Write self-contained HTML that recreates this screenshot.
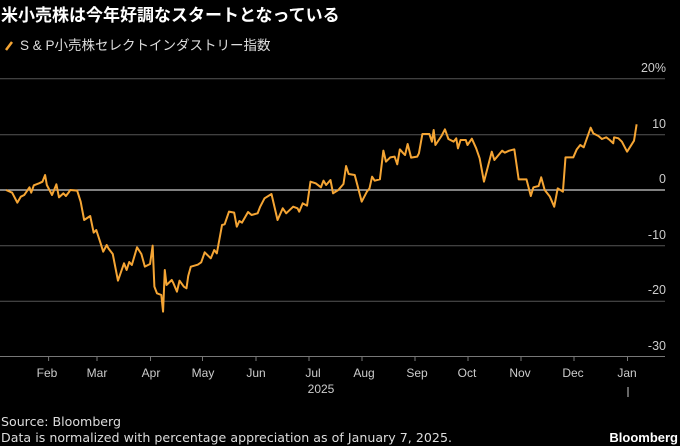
<!DOCTYPE html>
<html><head><meta charset="utf-8"><style>
body{margin:0;background:#000;width:680px;height:446px;overflow:hidden;font-family:"Liberation Sans","Noto Sans CJK JP",sans-serif;color:#fff}
svg{position:absolute;left:0;top:0}
</style></head><body>
<svg width="680" height="446" xmlns="http://www.w3.org/2000/svg" font-family="Liberation Sans, Noto Sans CJK JP, sans-serif">
<text x="1" y="21" font-size="17" font-weight="bold" fill="#fff">米小売株は今年好調なスタートとなっている</text>
<line x1="6" y1="50" x2="12" y2="42" stroke="#f5a534" stroke-width="2.5"/>
<text x="20" y="50" font-size="13.5" fill="#ddd">S &amp; P小売株セレクトインダストリー指数</text>
<g stroke="#555" stroke-width="1">
<line x1="0" y1="78.7" x2="665" y2="78.7"/>
<line x1="0" y1="134.7" x2="665" y2="134.7"/>
<line x1="0" y1="245.7" x2="665" y2="245.7"/>
<line x1="0" y1="301.3" x2="665" y2="301.3"/>
</g>
<line x1="0" y1="190" x2="665" y2="190" stroke="#ccc" stroke-width="1.2"/>
<line x1="0" y1="356.5" x2="665" y2="356.5" stroke="#777" stroke-width="1"/>
<g stroke="#777" stroke-width="1">
<line x1="48.6" y1="356" x2="48.6" y2="361"/><line x1="97" y1="356" x2="97" y2="361"/><line x1="150.5" y1="356" x2="150.5" y2="361"/><line x1="202.5" y1="356" x2="202.5" y2="361"/><line x1="256" y1="356" x2="256" y2="361"/><line x1="309" y1="356" x2="309" y2="361"/><line x1="362" y1="356" x2="362" y2="361"/><line x1="415" y1="356" x2="415" y2="361"/><line x1="468" y1="356" x2="468" y2="361"/><line x1="521" y1="356" x2="521" y2="361"/><line x1="574" y1="356" x2="574" y2="361"/><line x1="627.5" y1="356" x2="627.5" y2="361"/>
</g>
<g font-size="12.5" fill="#ccc" text-anchor="end">
<text x="666" y="72">20%</text><text x="666" y="128">10</text><text x="666" y="183">0</text><text x="666" y="239">-10</text><text x="666" y="294">-20</text><text x="666" y="350">-30</text>
</g>
<g font-size="12" fill="#ccc" text-anchor="middle">
<text x="47" y="377">Feb</text><text x="97" y="377">Mar</text><text x="151" y="377">Apr</text><text x="203" y="377">May</text><text x="256" y="377">Jun</text><text x="313" y="377">Jul</text><text x="364" y="377">Aug</text><text x="417" y="377">Sep</text><text x="467" y="377">Oct</text><text x="520" y="377">Nov</text><text x="573" y="377">Dec</text><text x="627" y="377">Jan</text>
<text x="321" y="393">2025</text>
</g>
<line x1="628" y1="387" x2="628" y2="397" stroke="#ccc" stroke-width="1"/>
<g transform="translate(0,60) scale(0.43367,0.33333)">
<polyline fill="none" stroke="#f5a534" stroke-width="2" vector-effect="non-scaling-stroke" stroke-linejoin="round" points="14,390 28,398 40,428 48,410 56,405 68,382 72,398 78,376 90,370 98,365 104,345 108,375 120,405 130,373 136,412 146,400 152,408 158,398 162,390 178,392 186,425 194,480 208,468 216,518 222,510 232,550 238,575 246,555 250,565 260,582 272,662 286,610 292,630 298,606 304,615 316,562 326,582 334,620 346,612 352,557 356,680 362,700 372,705 376,755 380,630 384,675 396,660 400,670 408,695 414,662 424,680 430,685 434,648 440,620 456,614 464,607 472,577 486,595 494,570 500,580 512,495 518,493 528,455 540,458 546,500 552,483 558,488 572,456 580,465 594,460 600,440 610,415 626,402 640,480 652,445 660,460 676,440 686,445 690,455 698,430 708,437 716,365 728,370 740,382 746,362 752,375 762,360 768,400 780,390 792,372 798,318 804,342 818,345 834,425 846,395 852,385 858,350 864,362 876,358 884,272 890,305 900,292 910,290 916,313 922,268 930,280 934,285 940,252 948,293 962,290 966,280 974,222 990,222 996,245 1000,210 1004,255 1018,228 1026,208 1034,237 1046,245 1052,235 1056,265 1062,240 1074,240 1078,255 1088,236 1098,265 1106,295 1116,365 1124,325 1134,275 1140,300 1158,272 1164,278 1174,272 1186,268 1196,358 1214,358 1224,408 1230,382 1242,378 1248,352 1256,390 1268,410 1278,440 1286,385 1298,395 1304,292 1322,292 1330,268 1338,255 1346,262 1362,203 1368,220 1380,228 1388,237 1398,232 1406,240 1414,250 1416,232 1426,235 1434,245 1446,275 1462,242 1468,193"/>
</g>
<g font-family="DejaVu Sans, sans-serif" font-size="12.6" fill="#ddd">
<text x="1" y="426">Source: Bloomberg</text>
<text x="1" y="442" textLength="451" lengthAdjust="spacing">Data is normalized with percentage appreciation as of January 7, 2025.</text>
</g>
<text x="678" y="442" font-size="13" font-weight="bold" fill="#fff" text-anchor="end">Bloomberg</text>
</svg>
</body></html>
